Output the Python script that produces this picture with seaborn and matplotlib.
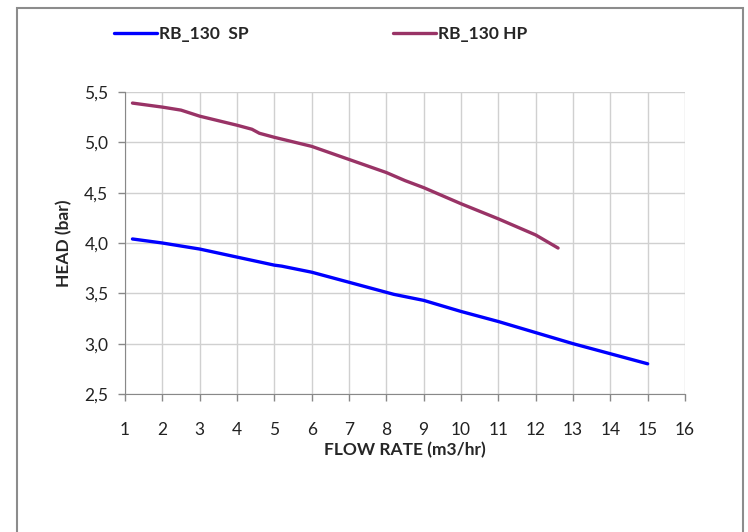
import matplotlib
matplotlib.use("Agg")
import matplotlib.pyplot as plt
import matplotlib.patches as mpatches
import pandas as pd
import seaborn as sns

# pump curves
flow_sp = [1.2, 2, 3, 4, 5, 5.2, 6, 7, 8, 8.2, 9, 10, 11, 12, 13, 14, 15]
head_sp = [4.04, 4.00, 3.94, 3.86, 3.78, 3.77, 3.71, 3.61, 3.51, 3.49, 3.43, 3.32, 3.22, 3.11, 3.00, 2.90, 2.80]

flow_hp = [1.2, 2, 2.5, 3, 4, 4.4, 4.6, 5, 6, 7, 8, 8.5, 9, 10, 11, 12, 12.6]
head_hp = [5.39, 5.35, 5.32, 5.26, 5.17, 5.13, 5.09, 5.05, 4.96, 4.83, 4.70, 4.62, 4.55, 4.39, 4.24, 4.08, 3.95]

x_ticks = list(range(1, 17))
y_ticks = [2.5, 3.0, 3.5, 4.0, 4.5, 5.0, 5.5]

sns.set_style("white")
plt.rcParams['font.family'] = ['Lato', 'DejaVu Sans']

df = pd.concat([
    pd.DataFrame({"flow": flow_sp, "head": head_sp, "pump": "RB_130  SP"}),
    pd.DataFrame({"flow": flow_hp, "head": head_hp, "pump": "RB_130 HP"}),
])
colors = {"RB_130  SP": "#0000FF", "RB_130 HP": "#993366"}

fig = plt.figure(figsize=(7.48, 5.32), dpi=100)
ax = fig.add_axes([125 / 748, 1 - 394 / 532, 560 / 748, 302 / 532])

sns.lineplot(data=df, x="flow", y="head", hue="pump", sort=False,
             palette=colors, linewidth=2.4, ax=ax, legend=False)

ax.set_xlim(1, 16)
ax.set_ylim(2.5, 5.5)
ax.set_xticks(x_ticks)
ax.set_yticks(y_ticks)
ax.set_yticklabels([f"{v:.1f}".replace(".", ",") for v in y_ticks])
ax.grid(True, color="#d0d0d0", linewidth=1)
ax.tick_params(axis="both", labelsize=12.5, colors="#222222", length=5, width=1, direction="out")
ax.tick_params(axis="x", bottom=True, color="#888888", pad=15)
ax.tick_params(axis="y", left=True, color="#888888", pad=7)
for side in ["top", "right"]:
    ax.spines[side].set_visible(False)
for side in ["left", "bottom"]:
    ax.spines[side].set_color("#888888")

ax.set_xlabel("FLOW RATE (m3/hr)", fontsize=12.5, fontweight="bold")
ax.set_ylabel("HEAD (bar)", fontsize=12.5, fontweight="bold")
ax.xaxis.set_label_coords(0.5, -0.158)
ax.yaxis.set_label_coords(-0.095, 0.5)

# legend entries along the top
for name, x0 in [("RB_130  SP", 114), ("RB_130 HP", 393)]:
    fig.legend(handles=[plt.Line2D([], [], color=colors[name], lw=2.4)], labels=[name],
               frameon=False, loc="center left", bbox_to_anchor=(x0 / 748, 1 - 34 / 532),
               prop={"weight": "bold", "size": 12.5}, handlelength=2.45,
               handletextpad=0.15, borderpad=0, borderaxespad=0)

# chart frame
fig.patches.append(mpatches.Rectangle((17 / 748, -0.05), 726 / 748, 1 - 8 / 532 + 0.05,
                                      transform=fig.transFigure, fill=False,
                                      edgecolor="#8c8c8c", linewidth=1.5))

fig.savefig("out.png", dpi=100)
